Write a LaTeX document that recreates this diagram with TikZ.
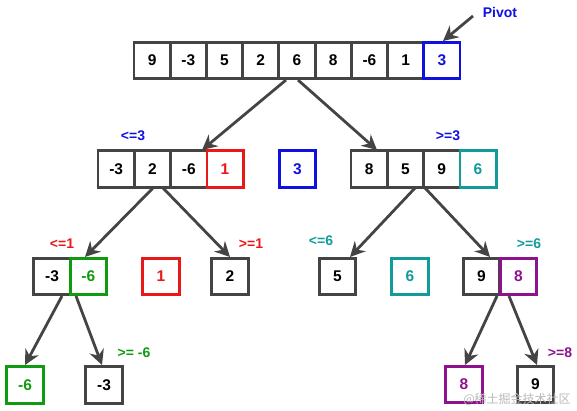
\documentclass[tikz,border=0pt]{standalone}
\usepackage{fontspec}
\setmainfont{Liberation Sans}
\newfontfamily\cjkfont{Noto Sans CJK SC}
\usetikzlibrary{arrows.meta}
\definecolor{dgray}{HTML}{444444}
\definecolor{pblue}{HTML}{1010E0}
\definecolor{pred}{HTML}{E81818}
\definecolor{pgreen}{HTML}{109A10}
\definecolor{pteal}{HTML}{139A9A}
\definecolor{ppurple}{HTML}{8E128E}
\tikzset{
  cell/.style={draw=dgray, line width=2.8pt, minimum width=36.3pt, minimum height=36.5pt, inner sep=0pt, font=\fontsize{15.5}{17}\selectfont\bfseries, text=black},
  bluecell/.style={cell, draw=pblue, text=pblue},
  redcell/.style={cell, draw=pred, text=pred},
  greencell/.style={cell, draw=pgreen, text=pgreen},
  tealcell/.style={cell, draw=pteal, text=pteal},
  purplecell/.style={cell, draw=ppurple, text=ppurple},
  lbl/.style={font=\fontsize{14}{16}\selectfont\bfseries, inner sep=0pt},
  conn/.style={draw=dgray, line width=2.8pt, -{Stealth[length=15pt, width=15pt, inset=5pt]}}
}
\begin{document}
\begin{tikzpicture}[x=1pt, y=-1pt]
\useasboundingbox (0,0) rectangle (577,410);
% top row
\foreach \v [count=\i from 0] in {9,-3,5,2,6,8,-6,1} {
  \node[cell] (t\i) at ({134+36.22*(\i+0.5)}, 60.5) {\v};
}
\node[bluecell] (t8) at ({134+36.22*8.5}, 60.5) {3};
\node[lbl, text=pblue] (pivot) at (500, 12) {Pivot};
\coordinate (pvs) at (473, 16);
\coordinate (pve) at (443, 41);
\draw[conn] (pvs) -- (pve);

% level 2 left
\foreach \v [count=\i from 0] in {-3,2,-6} {
  \node[cell] (a\i) at ({98+36.3*(\i+0.5)}, 169) {\v};
}
\node[redcell] (a3) at ({98+36.3*3.5}, 169) {1};
\node[lbl, text=pblue] (la) at (133, 136) {<=3};
\node[bluecell] (mid3) at (297.5, 169) {3};
% level 2 right
\foreach \v [count=\i from 0] in {8,5,9} {
  \node[cell] (b\i) at ({351+36.3*(\i+0.5)}, 169) {\v};
}
\node[tealcell] (b3) at ({351+36.3*3.5}, 169) {6};
\node[lbl, text=pblue] (lb) at (448, 136) {>=3};

\coordinate (s1) at (286, 80);
\coordinate (e1) at (202, 150);
\coordinate (s2) at (298, 80);
\coordinate (e2) at (377, 150);
\draw[conn] (s1) -- (e1);
\draw[conn] (s2) -- (e2);

% level 3
\node[cell] (c0) at (52, 276.5) {-3};
\node[greencell] (c1) at (88.3, 276.5) {-6};
\node[lbl, text=pred] (lc) at (62, 244) {<=1};
\node[redcell] (c2) at (161, 276.5) {1};
\node[cell] (c3) at (230, 276.5) {2};
\node[lbl, text=pred] (ld) at (251, 244) {>=1};

\node[cell] (d0) at (337.5, 276.5) {5};
\node[lbl, text=pteal] (le) at (321, 241) {<=6};
\node[tealcell] (d1) at (410, 276.5) {6};
\node[cell] (d2) at (481.5, 276.5) {9};
\node[purplecell] (d3) at (518.5, 276.5) {8};
\node[lbl, text=pteal] (lf) at (529, 244) {>=6};

\coordinate (s3) at (153, 188);
\coordinate (e3) at (85, 257);
\coordinate (s4) at (163, 188);
\coordinate (e4) at (230, 257);
\coordinate (s5) at (415, 188);
\coordinate (e5) at (350, 257);
\coordinate (s6) at (425, 188);
\coordinate (e6) at (490, 257);
\draw[conn] (s3) -- (e3);
\draw[conn] (s4) -- (e4);
\draw[conn] (s5) -- (e5);
\draw[conn] (s6) -- (e6);

% level 4
\node[greencell] (g0) at (25, 385) {-6};
\node[cell] (g1) at (104, 385) {-3};
\node[lbl, text=pgreen] (lg) at (134, 353) {>= -6};
\node[purplecell] (h0) at (464, 384.5) {8};
\node[cell] (h1) at (535.5, 384.5) {9};
\node[lbl, text=ppurple] (lh) at (560, 353) {>=8};

\coordinate (s7) at (62, 296);
\coordinate (e7) at (25, 365);
\coordinate (s8) at (76, 296);
\coordinate (e8) at (102, 365);
\coordinate (s9) at (497, 296);
\coordinate (e9) at (465, 365);
\coordinate (s10) at (509, 296);
\coordinate (e10) at (537, 365);
\draw[conn] (s7) -- (e7);
\draw[conn] (s8) -- (e8);
\draw[conn] (s9) -- (e9);
\draw[conn] (s10) -- (e10);

% watermark
\node[font=\cjkfont\fontsize{12}{14}\selectfont, text=gray!55, inner sep=0pt] (wm) at (517, 399) {@稀土掘金技术社区};
\end{tikzpicture}
\end{document}
